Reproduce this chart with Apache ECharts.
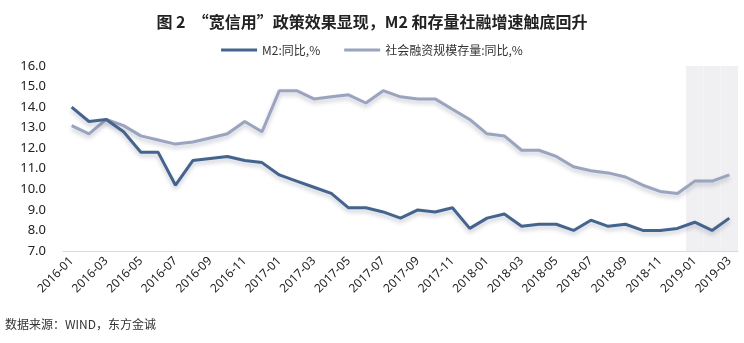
<!DOCTYPE html>
<html>
<head>
<meta charset="utf-8">
<script src="https://cdn.jsdelivr.net/npm/echarts@6/dist/echarts.min.js"></script>
<style>
  html, body { margin: 0; padding: 0; background: #fff; }
  #chart { width: 744px; height: 343px; }
</style>
</head>
<body>
<div id="chart"></div>
<script>
// Monthly year-on-year growth, 2016-01 .. 2019-03
const months = [
  '2016-01','2016-02','2016-03','2016-04','2016-05','2016-06','2016-07','2016-08','2016-09','2016-10','2016-11','2016-12',
  '2017-01','2017-02','2017-03','2017-04','2017-05','2017-06','2017-07','2017-08','2017-09','2017-10','2017-11','2017-12',
  '2018-01','2018-02','2018-03','2018-04','2018-05','2018-06','2018-07','2018-08','2018-09','2018-10','2018-11','2018-12',
  '2019-01','2019-02','2019-03'
];
const m2Yoy = [
  14.0, 13.3, 13.4, 12.8, 11.8, 11.8, 10.2, 11.4, 11.5, 11.6, 11.4, 11.3,
  10.7, 10.4, 10.1, 9.8, 9.1, 9.1, 8.9, 8.6, 9.0, 8.9, 9.1, 8.1,
  8.6, 8.8, 8.2, 8.3, 8.3, 8.0, 8.5, 8.2, 8.3, 8.0, 8.0, 8.1,
  8.4, 8.0, 8.6
];
const tsfYoy = [
  13.1, 12.7, 13.4, 13.1, 12.6, 12.4, 12.2, 12.3, 12.5, 12.7, 13.3, 12.8,
  14.8, 14.8, 14.4, 14.5, 14.6, 14.2, 14.8, 14.5, 14.4, 14.4, 13.9, 13.4,
  12.7, 12.6, 11.9, 11.9, 11.6, 11.1, 10.9, 10.8, 10.6, 10.2, 9.9, 9.8,
  10.4, 10.4, 10.7
];
const seriesNames = ['M2:同比,%', '社会融资规模存量:同比,%'];
const shadedMonths = ['2019-01', '2019-02', '2019-03'];
const yMin = 7, yMax = 16, yStep = 1;

const chart = echarts.init(document.getElementById('chart'));
const lineShadow = { shadowColor: 'rgba(60,70,100,0.28)', shadowBlur: 4, shadowOffsetY: 3 };

chart.setOption({
  animation: false,
  title: {
    text: '图 2  “宽信用”政策效果显现，M2 和存量社融增速触底回升',
    left: 'center',
    top: 9,
    textStyle: { fontFamily: 'Noto Sans CJK SC', fontSize: 16, fontWeight: 'bold', color: '#222' }
  },
  legend: {
    data: seriesNames,
    top: 39,
    left: 'center',
    itemWidth: 36,
    itemHeight: 3,
    itemGap: 24,
    icon: 'rect',
    textStyle: { fontFamily: 'Noto Sans CJK SC', fontSize: 12, color: '#333' }
  },
  graphic: [{
    type: 'text',
    left: 5,
    top: 318,
    style: { text: '数据来源：WIND，东方金诚', fontFamily: 'Noto Sans CJK SC', fontSize: 12, fill: '#333' }
  }],
  grid: { left: 63, right: 6, top: 66, bottom: 92 },
  xAxis: {
    type: 'category',
    data: months,
    boundaryGap: true,
    axisLine: { lineStyle: { color: '#d9d9d9', width: 1 } },
    axisTick: { interval: 1, length: 5, lineStyle: { color: '#d9d9d9' } },
    axisLabel: { interval: 1, rotate: 45, fontFamily: 'Noto Sans', fontSize: 12, color: '#222', margin: 8 }
  },
  yAxis: {
    type: 'value',
    min: yMin,
    max: yMax,
    interval: yStep,
    axisLine: { show: false },
    axisTick: { show: false },
    splitLine: { show: false },
    axisLabel: { formatter: v => v.toFixed(1), fontFamily: 'Noto Sans', fontSize: 13, color: '#222', margin: 17 }
  },
  series: [
    {
      name: 'shade',
      type: 'bar',
      data: months.map(m => shadedMonths.includes(m) ? yMax : null),
      barWidth: '100%',
      barCategoryGap: '0%',
      itemStyle: { color: '#f0f0f3' },
      silent: true,
      z: 1
    },
    {
      name: seriesNames[0],
      type: 'line',
      data: m2Yoy,
      symbol: 'none',
      color: '#44648e',
      lineStyle: Object.assign({ width: 3, color: '#44648e' }, lineShadow),
      z: 4
    },
    {
      name: seriesNames[1],
      type: 'line',
      data: tsfYoy,
      symbol: 'none',
      color: '#9aa4be',
      lineStyle: Object.assign({ width: 3, color: '#9aa4be' }, lineShadow),
      z: 3
    }
  ]
});
</script>
</body>
</html>
